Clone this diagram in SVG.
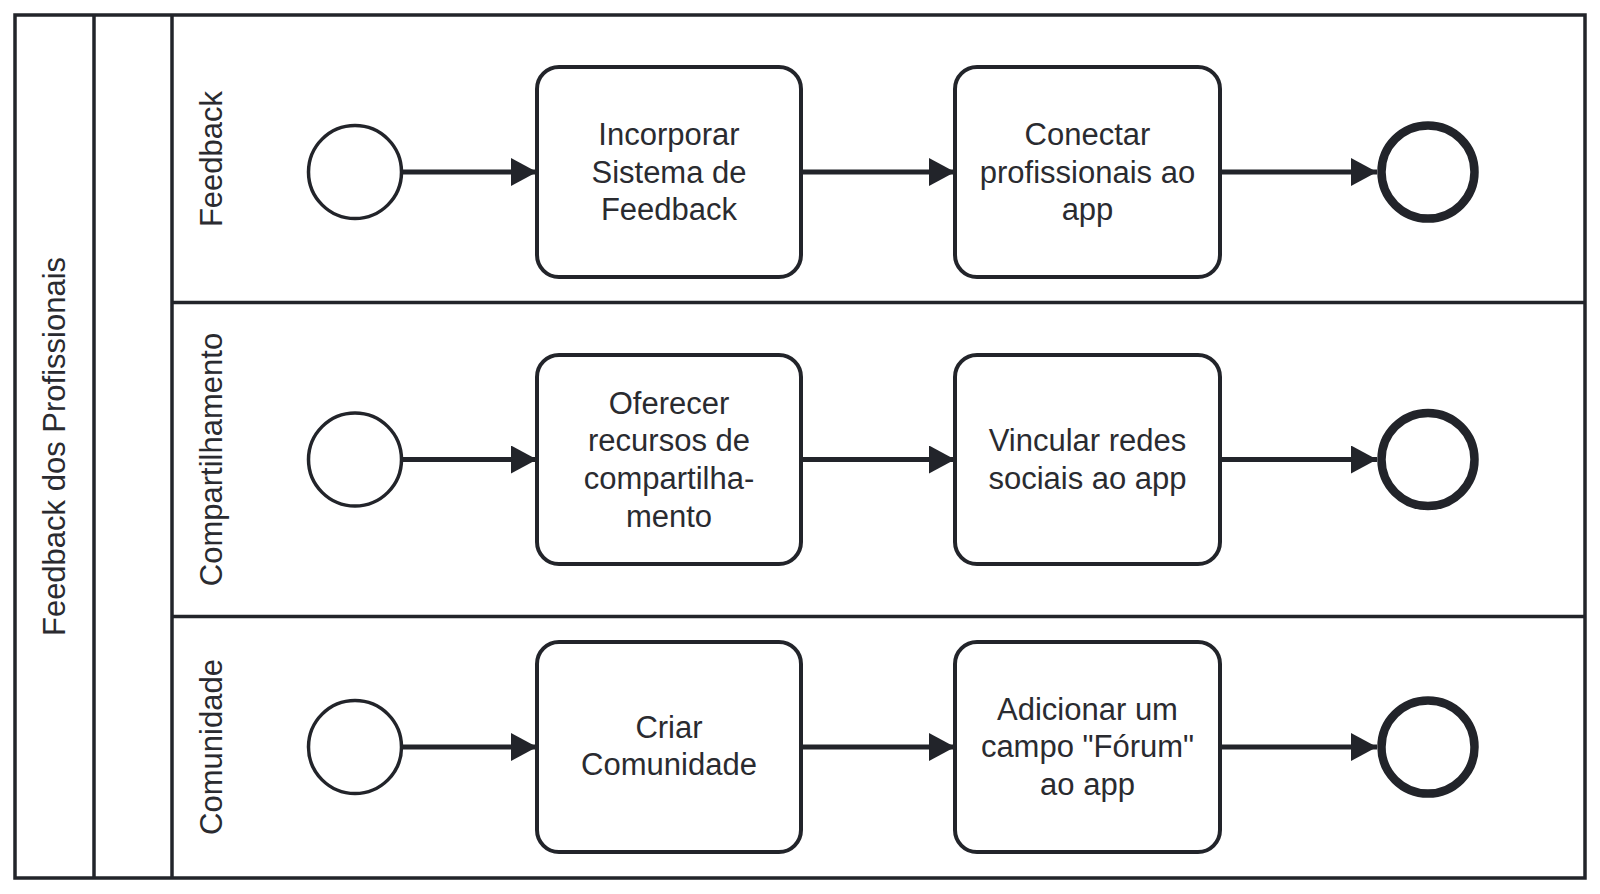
<svg xmlns="http://www.w3.org/2000/svg" width="1600" height="894" viewBox="0 0 1600 894">
<defs>
<style>
.pool{fill:#fff;stroke:#22242a;stroke-width:3.5}
.ln{stroke:#22242a;stroke-width:3.5;fill:none}
.task{fill:#fff;stroke:#22242a;stroke-width:4}
.start{fill:#fff;stroke:#22242a;stroke-width:3.5}
.end{fill:#fff;stroke:#22242a;stroke-width:8.5}
.flow{stroke:#22242a;stroke-width:5;fill:none}
.t{font-family:"Liberation Sans",Arial,sans-serif;font-size:31px;fill:#2a2b30;text-anchor:middle}
</style>
<marker id="arr" markerUnits="userSpaceOnUse" markerWidth="28" markerHeight="30" refX="26" refY="14" orient="auto">
<path d="M0,0 L26,14 L0,28 Z" fill="#22242a"/>
</marker>
</defs>
<rect width="1600" height="894" fill="#fff"/>
<g id="pool">
<rect class="pool" x="15" y="15" width="1570" height="863"/>
<line class="ln" x1="94" y1="15" x2="94" y2="878"/>
<line class="ln" x1="172" y1="15" x2="172" y2="878"/>
<line class="ln" x1="172" y1="302.5" x2="1585" y2="302.5"/>
<line class="ln" x1="172" y1="616.5" x2="1585" y2="616.5"/>
<text class="t" transform="translate(65,446.5) rotate(-90)">Feedback dos Profissionais</text>
</g>
<g id="lane-feedback"><text class="t" transform="translate(222,159) rotate(-90)">Feedback</text></g>
<g id="lane-compartilhamento"><text class="t" transform="translate(222,459.5) rotate(-90)">Compartilhamento</text></g>
<g id="lane-comunidade"><text class="t" transform="translate(222,747) rotate(-90)">Comunidade</text></g>

<g id="connectors">
<line class="flow" x1="402" y1="172" x2="537" y2="172" marker-end="url(#arr)"/>
<line class="flow" x1="801" y1="172" x2="955" y2="172" marker-end="url(#arr)"/>
<line class="flow" x1="1220" y1="172" x2="1377" y2="172" marker-end="url(#arr)"/>
<line class="flow" x1="402" y1="459.5" x2="537" y2="459.5" marker-end="url(#arr)"/>
<line class="flow" x1="801" y1="459.5" x2="955" y2="459.5" marker-end="url(#arr)"/>
<line class="flow" x1="1220" y1="459.5" x2="1377" y2="459.5" marker-end="url(#arr)"/>
<line class="flow" x1="402" y1="747" x2="537" y2="747" marker-end="url(#arr)"/>
<line class="flow" x1="801" y1="747" x2="955" y2="747" marker-end="url(#arr)"/>
<line class="flow" x1="1220" y1="747" x2="1377" y2="747" marker-end="url(#arr)"/>
</g>

<g id="start1"><circle class="start" cx="355" cy="172" r="46.5"/></g>
<g id="task1"><rect class="task" x="537" y="67" width="264" height="210" rx="22"/>
<text class="t" x="669" y="145">Incorporar</text><text class="t" x="669" y="182.7">Sistema de</text><text class="t" x="669" y="220.4">Feedback</text></g>
<g id="task2"><rect class="task" x="955" y="67" width="265" height="210" rx="22"/>
<text class="t" x="1087.5" y="145">Conectar</text><text class="t" x="1087.5" y="182.7">profissionais ao</text><text class="t" x="1087.5" y="220.4">app</text></g>
<g id="end1"><circle class="end" cx="1428" cy="172" r="46.5"/></g>

<g id="start2"><circle class="start" cx="355" cy="459.5" r="46.5"/></g>
<g id="task3"><rect class="task" x="537" y="355" width="264" height="209" rx="22"/>
<text class="t" x="669" y="413.5">Oferecer</text><text class="t" x="669" y="451.2">recursos de</text><text class="t" x="669" y="488.9">compartilha-</text><text class="t" x="669" y="526.6">mento</text></g>
<g id="task4"><rect class="task" x="955" y="355" width="265" height="209" rx="22"/>
<text class="t" x="1087.5" y="451.2">Vincular redes</text><text class="t" x="1087.5" y="488.9">sociais ao app</text></g>
<g id="end2"><circle class="end" cx="1428" cy="459.5" r="46.5"/></g>

<g id="start3"><circle class="start" cx="355" cy="747" r="46.5"/></g>
<g id="task5"><rect class="task" x="537" y="642" width="264" height="210" rx="22"/>
<text class="t" x="669" y="737.5">Criar</text><text class="t" x="669" y="775.2">Comunidade</text></g>
<g id="task6"><rect class="task" x="955" y="642" width="265" height="210" rx="22"/>
<text class="t" x="1087.5" y="719.5">Adicionar um</text><text class="t" x="1087.5" y="757.2">campo "Fórum"</text><text class="t" x="1087.5" y="794.9">ao app</text></g>
<g id="end3"><circle class="end" cx="1428" cy="747" r="46.5"/></g>
</svg>
